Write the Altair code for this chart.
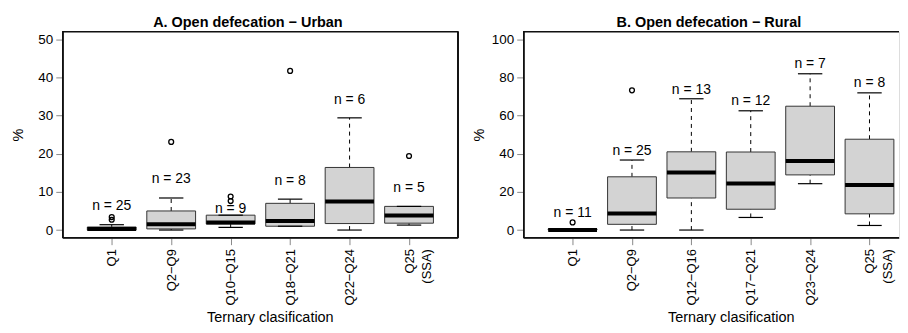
import json
import altair as alt
import pandas as pd

FONT = "Liberation Sans"
M = "\u2212"

# ---- Panel A: Urban ----
urban_cats = ["Q1", f"Q2{M}Q9", f"Q10{M}Q15", f"Q18{M}Q21", f"Q22{M}Q24", "Q25\n(SSA)"]
urban_lo = [0.0, 0.0, 0.7, 1.0, 0.0, 1.3]
urban_q1 = [0.0, 0.3, 1.6, 1.0, 1.7, 1.8]
urban_med = [0.3, 1.5, 2.0, 2.4, 7.5, 3.8]
urban_q3 = [0.8, 5.0, 3.9, 7.0, 16.4, 6.2]
urban_hi = [1.4, 8.4, 3.9, 8.1, 29.4, 6.2]
urban_out_cat = ["Q1", "Q1", f"Q2{M}Q9", f"Q10{M}Q15", f"Q10{M}Q15", f"Q18{M}Q21", "Q25\n(SSA)"]
urban_out_val = [2.7, 3.4, 23.1, 7.6, 8.8, 41.7, 19.4]
urban_n = [25, 23, 9, 8, 6, 5]
urban_label_y = [6.3, 13.3, 5.5, 12.9, 34.2, 11.0]

# ---- Panel B: Rural ----
rural_cats = ["Q1", f"Q2{M}Q9", f"Q12{M}Q16", f"Q17{M}Q21", f"Q23{M}Q24", "Q25\n(SSA)"]
rural_lo = [0.0, 0.0, 0.0, 6.6, 24.3, 2.4]
rural_q1 = [0.0, 3.0, 16.8, 10.9, 28.9, 8.5]
rural_med = [0.0, 8.7, 30.1, 24.4, 36.2, 23.6]
rural_q3 = [0.6, 27.9, 41.0, 40.9, 64.9, 47.6]
rural_hi = [0.6, 36.7, 68.8, 62.5, 81.9, 71.9]
rural_out_cat = ["Q1", f"Q2{M}Q9"]
rural_out_val = [4.0, 73.2]
rural_n = [11, 25, 13, 12, 7, 8]
rural_label_y = [8.7, 41.4, 73.6, 67.4, 86.8, 77.1]

STEP = 61.27   # pixels per group
H = 207        # plot height
LH = 18        # line height of tick labels


def panel(cats, lo, q1, med, q3, hi, out_cat, out_val, ns, laby, title, ydom, yvals,
          width, draw_right):
    pos = list(range(1, len(cats) + 1))
    df = pd.DataFrame({"cat": cats, "pos": pos, "lo": lo, "q1": q1, "med": med, "q3": q3,
                       "hi": hi, "nlab": [f"n = {n}" for n in ns], "laby": laby})
    odf = pd.DataFrame({"cat": out_cat, "val": out_val})
    odf["pos"] = [cats.index(c) + 1 for c in out_cat]

    lines = [c.split("\n") for c in cats]
    lab_expr = json.dumps(lines, ensure_ascii=False) + "[datum.value - 1]"

    xmin = 0.26
    xmax = xmin + width / STEP
    x = alt.X("pos:Q",
              scale=alt.Scale(domain=[xmin, xmax], nice=False, zero=False),
              axis=alt.Axis(title="Ternary clasification", values=pos, labelAngle=270,
                            labelExpr=lab_expr, labelAlign="right", labelBaseline="middle",
                            labelLineHeight=LH,
                            labelFontSize=13, labelPadding=4, tickSize=7, grid=False,
                            labelFlush=False, labelOverlap=False,
                            titleFontSize=14.5, titleFontWeight="normal",
                            titlePadding=5, titleX=208, titleAnchor="start",
                            titleAlign="center"))
    yscale = alt.Scale(domain=ydom, nice=False, zero=False)
    yaxis = alt.Axis(title="%", values=yvals, labelFontSize=13.5, tickSize=7,
                     labelPadding=3, grid=False, titleFontSize=14.5,
                     titleFontWeight="normal", titleX=-37, titleAnchor="middle")

    base = alt.Chart(df)
    whisk_up = base.mark_rule(color="black", strokeWidth=1, strokeDash=[4, 4]).encode(
        x=x, y=alt.Y("q3:Q", scale=yscale, axis=yaxis), y2="hi:Q")
    whisk_lo = base.mark_rule(color="black", strokeWidth=1, strokeDash=[4, 4]).encode(
        x=x, y=alt.Y("lo:Q", scale=yscale, axis=yaxis), y2="q1:Q")
    box = base.mark_bar(size=49, fill="#D3D3D3", stroke="#333333", strokeWidth=1,
                        opacity=1).encode(
        x=x, y=alt.Y("q1:Q", scale=yscale, axis=yaxis), y2="q3:Q")
    median = base.mark_tick(orient="horizontal", size=49, thickness=4, color="black",
                            opacity=1).encode(
        x=x, y=alt.Y("med:Q", scale=yscale, axis=yaxis))
    cap_hi = base.mark_tick(orient="horizontal", size=24.5, thickness=1.2, color="black",
                            opacity=1).encode(
        x=x, y=alt.Y("hi:Q", scale=yscale, axis=yaxis))
    cap_lo = base.mark_tick(orient="horizontal", size=24.5, thickness=1.2, color="black",
                            opacity=1).encode(
        x=x, y=alt.Y("lo:Q", scale=yscale, axis=yaxis))
    outl = alt.Chart(odf).mark_point(shape="circle", filled=False, size=24,
                                     strokeWidth=1.3, color="black", opacity=1).encode(
        x=x, y=alt.Y("val:Q", scale=yscale, axis=yaxis))
    labels = base.mark_text(fontSize=14, font=FONT, color="black", baseline="middle").encode(
        x=x, y=alt.Y("laby:Q", scale=yscale, axis=yaxis), text="nlab:N")

    # plot frame (R box()); the right panel's right side lies outside the picture
    fr = dict(color="#111111", strokeWidth=1)
    frame_top = base.mark_rule(**fr).encode(x=alt.value(0), x2=alt.value(width), y=alt.value(0))
    frame_bot = base.mark_rule(**fr).encode(x=alt.value(0), x2=alt.value(width), y=alt.value(H))
    frame_left = base.mark_rule(**fr).encode(x=alt.value(0), y=alt.value(0), y2=alt.value(H))
    layers = [whisk_up, whisk_lo, box, median, cap_hi, cap_lo, outl, labels,
              frame_top, frame_bot, frame_left]
    if draw_right:
        layers.append(base.mark_rule(**fr).encode(x=alt.value(width), y=alt.value(0),
                                                  y2=alt.value(H)))

    return alt.layer(*layers).properties(
        width=width, height=H,
        title=alt.Title(title, fontSize=14.5, fontWeight="bold", font=FONT, color="black",
                        anchor="start", frame="group", dx=186, align="center",
                        offset=1))


left = panel(urban_cats, urban_lo, urban_q1, urban_med, urban_q3, urban_hi,
             urban_out_cat, urban_out_val, urban_n, urban_label_y,
             f"A. Open defecation {M} Urban", [-2, 52], [0, 10, 20, 30, 40, 50],
             397, True)
right = panel(rural_cats, rural_lo, rural_q1, rural_med, rural_q3, rural_hi,
              rural_out_cat, rural_out_val, rural_n, rural_label_y,
              f"B. Open defecation {M} Rural", [-4, 104], [0, 20, 40, 60, 80, 100],
              377, False)

chart = alt.hconcat(left, right, spacing=12).resolve_scale(
    x="independent", y="independent"
).properties(
    padding={"left": 2, "top": 5, "right": 0, "bottom": 0}
).configure_view(
    stroke="transparent", strokeWidth=0
).configure_axis(
    domain=False, tickColor="#111111", labelColor="#111111", titleColor="#111111",
    labelFont=FONT, titleFont=FONT
).configure(background="white")

chart.save("out.html", embed_options={"renderer": "svg", "actions": False})
